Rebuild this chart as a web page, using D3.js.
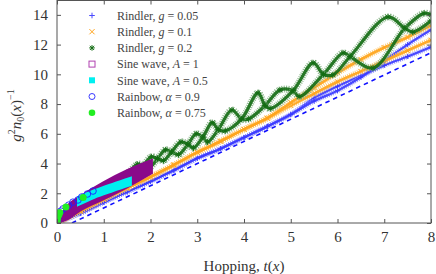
<!DOCTYPE html>
<html>
<head>
<meta charset="utf-8">
<title>Hopping vs density</title>
<script src="https://d3js.org/d3.v7.min.js"></script>
<style>
    body { margin: 0; background: #fff; }
</style>
</head>
<body>
<div id="cont"></div>
<script>
// ---- data: [t(x), g^2 n0(x)^-1] ----
var xTicks = [0, 1, 2, 3, 4, 5, 6, 7, 8];
var yTicks = [0, 2, 4, 6, 8, 10, 12, 14];

// Rindler g = 0.05 (two strands of the coil)
var blueA = [[0,0],[0.5,0.65],[1,1.4],[1.5,2.1],[2,2.8],[2.5,3.55],[3,4.35],[3.5,5.0],[4,5.75],[4.5,6.5],[5,7.3],[5.5,8.4],[6,9.2],[6.5,9.9],[7,10.6],[7.5,11.2],[8,11.84]];
var blueB = [[0,0],[0.5,0.65],[1,1.4],[1.5,2.1],[2,2.8],[2.5,3.55],[3,4.35],[3.5,5.0],[4,5.75],[4.5,6.5],[5,7.3],[5.5,8.2],[6,8.9],[6.5,9.8],[7,10.9],[7.5,12.0],[8,13.0]];

// Rindler g = 0.1
var orangeA = [[0,0],[0.5,0.8],[1,1.6],[1.5,2.35],[2,3.1],[2.5,3.9],[3,4.75],[3.5,5.5],[4,6.3],[4.5,7.05],[5,7.9],[5.5,8.7],[6,9.5],[6.5,10.2],[7,10.9],[7.5,11.6],[8,12.3]];
var orangeB = [[0,0],[0.5,0.8],[1,1.6],[1.5,2.35],[2,3.1],[2.5,3.9],[3,4.75],[3.5,5.5],[4,6.3],[4.5,7.05],[5,8.1],[5.5,9.1],[6,10.1],[6.5,11.0],[7,11.8],[7.5,12.5],[8,13.3]];

// Rindler g = 0.2
var greenA = [[1.55,3.43],[1.72,3.95],[1.85,3.88],[1.98,3.75],[2.15,4.33],[2.32,4.92],[2.45,4.78],[2.6,4.6],[2.8,5.3],[2.98,6.0],[3.12,5.78],[3.22,5.45],[3.45,6.28],[3.74,7.6],[3.95,7.0],[4.1,7.0],[4.45,7.9],[4.77,8.95],[5.05,8.9],[5.18,8.5],[5.7,10.0],[6.12,11.44],[6.27,11.2],[6.76,10.43],[7.44,13.1],[7.85,14.1],[8,14.0]];
var greenB = [[1.55,3.43],[1.68,3.3],[1.85,3.88],[2.02,4.45],[2.15,4.33],[2.28,4.2],[2.45,4.78],[2.65,5.45],[2.8,5.3],[2.92,5.05],[3.12,5.78],[3.32,6.75],[3.45,6.28],[3.6,6.2],[3.95,7.0],[4.3,8.75],[4.45,7.9],[4.56,7.7],[5.05,8.9],[5.48,10.77],[5.7,10.0],[5.9,9.96],[6.27,11.2],[7.08,13.86],[7.44,13.1],[7.61,12.85],[8,13.6]];

// Sine wave A = 1 (band) and A = 0.5 (band)
var sine1X = [0, 0.25, 0.5, 1.0, 1.5, 2.03];
var sine1Up = [0.2, 1.25, 1.8, 2.75, 3.55, 4.24];
var sine1Lo = [0, 0.3, 0.85, 1.6, 2.4, 3.35];
var sine05X = [0.45, 0.8, 1.2, 1.58];
var sine05Up = [1.75, 2.2, 2.65, 3.05];
var sine05Lo = [1.2, 1.7, 2.15, 2.55];

// Rainbow
var rain09T = [0.0, 0.01, 0.03, 0.08, 0.13, 0.25, 0.34, 0.45, 0.53, 0.65, 0.77];
var rain09N = [0.1, 0.3, 0.55, 0.8, 0.95, 1.2, 1.4, 1.55, 1.75, 1.95, 2.15];
var rain075T = [0, 0, 0, 0.01, 0.02, 0.04, 0.06, 0.19, 0.56];
var rain075N = [0.05, 0.15, 0.25, 0.35, 0.45, 0.55, 0.7, 1.08, 1.72];

// dashed reference line
var dashT = [0.32, 8];
var dashN = [0, 11.45];

(function() {
    var W = 436, H = 274,
        margin = { top: 0.5, left: 57 },
        width = 431 - 57,
        height = 222.5,
        serif = '"Liberation Serif", "DejaVu Serif", serif';

    var svg = d3.select('#cont').append('svg')
        .attr('width', W).attr('height', H)
        .append('g')
        .attr('transform', 'translate(' + margin.left + ',' + margin.top + ')');

    var x = d3.scaleLinear().domain([0, 8]).range([0, width]);
    var y = d3.scaleLinear().domain([0, 15]).range([height, -0.5]);

    var line = d3.line()
        .x(function(d) { return x(d[0]); })
        .y(function(d) { return y(d[1]); })
        .curve(d3.curveCatmullRom.alpha(0.5));

    //marker shapes
    function plus(s) { return 'M' + (-s) + ',0H' + s + 'M0,' + (-s) + 'V' + s; }
    function cross(s) { return 'M' + (-s) + ',' + (-s) + 'L' + s + ',' + s + 'M' + (-s) + ',' + s + 'L' + s + ',' + (-s); }
    function star(s) { return plus(s) + cross(s * 0.75); }

    svg.append('clipPath').attr('id', 'clip')
        .append('rect').attr('width', width).attr('height', height);
    var plot = svg.append('g').attr('clip-path', 'url(#clip)');

    function strand(pts, core, light, w, shape, ms) {
        var g = plot.append('g');
        g.append('path').attr('d', line(pts))
            .attr('fill', 'none').attr('stroke', light)
            .attr('stroke-width', w).attr('stroke-dasharray', '1 1.1')
            .attr('opacity', 0.85);
        g.append('path').attr('d', line(pts))
            .attr('fill', 'none').attr('stroke', core)
            .attr('stroke-width', w * 0.45).attr('opacity', 0.9);
        g.selectAll('path.m').data(pts).enter().append('path')
            .attr('class', 'm')
            .attr('transform', function(d) { return 'translate(' + x(d[0]) + ',' + y(d[1]) + ')'; })
            .attr('d', shape(ms))
            .attr('stroke', core).attr('stroke-width', 0.9).attr('fill', 'none');
    }

    //dashed line
    plot.append('path')
        .attr('d', d3.line()(dashT.map(function(t, i) { return [x(t), y(dashN[i])]; })))
        .attr('stroke', '#1010ff').attr('stroke-width', 1.6)
        .attr('stroke-dasharray', '4.5 4').attr('fill', 'none');

    strand(blueA, '#3a3aff', '#8c8cff', 5, plus, 2.5);
    strand(blueB, '#3a3aff', '#8c8cff', 5, plus, 2.5);
    strand(orangeA, '#ffa31a', '#ffc766', 6, cross, 2.5);
    strand(orangeB, '#ffa31a', '#ffc766', 6, cross, 2.5);
    strand(greenA, '#136c13', '#7fb07f', 7, star, 3);
    strand(greenB, '#136c13', '#7fb07f', 7, star, 3);

    //sine wave bands
    function band(xs, up, lo, fill) {
        var pts = xs.map(function(t, i) { return [t, up[i], lo[i]]; });
        plot.append('path')
            .attr('d', d3.area()
                .x(function(d) { return x(d[0]); })
                .y0(function(d) { return y(d[2]); })
                .y1(function(d) { return y(d[1]); })
                .curve(d3.curveMonotoneX)(pts))
            .attr('fill', fill).attr('stroke', fill).attr('stroke-width', 2);
    }
    band(sine1X, sine1Up, sine1Lo, '#8a0a8a');
    band(sine05X, sine05Up, sine05Lo, '#00f0f0');

    //rainbow points
    plot.selectAll('circle.r09').data(rain09T).enter().append('circle')
        .attr('cx', function(d) { return x(d); })
        .attr('cy', function(d, i) { return y(rain09N[i]); })
        .attr('r', 3.3).attr('fill', 'none').attr('stroke', '#2020ff').attr('stroke-width', 0.9);
    plot.selectAll('circle.r075').data(rain075T).enter().append('circle')
        .attr('cx', function(d) { return x(d); })
        .attr('cy', function(d, i) { return y(rain075N[i]); })
        .attr('r', 3.5).attr('fill', '#22ee22');

    //axes, ticks inward on all four sides
    var xAxis = d3.axisBottom(x).tickValues(xTicks).tickSizeInner(-4).tickSizeOuter(0).tickPadding(8);
    var yAxis = d3.axisLeft(y).tickValues(yTicks).tickSizeInner(-4).tickSizeOuter(0).tickPadding(9);

    svg.append('g').attr('transform', 'translate(0,' + height + ')').call(xAxis);
    svg.append('g').call(yAxis);
    svg.append('g').call(d3.axisTop(x).tickValues(xTicks).tickSizeInner(-4).tickSizeOuter(0).tickFormat(''));
    svg.append('g').attr('transform', 'translate(' + width + ',0)')
        .call(d3.axisRight(y).tickValues(yTicks).tickSizeInner(-4).tickSizeOuter(0).tickFormat(''));

    svg.selectAll('.domain').remove();
    svg.selectAll('.tick line').attr('stroke', '#555');
    svg.selectAll('.tick text').style('font-size', '15px').style('font-family', serif).attr('fill', '#333');

    svg.append('rect').attr('x', 0).attr('y', 0).attr('width', width).attr('height', height)
        .attr('fill', 'none').attr('stroke', '#555').attr('stroke-width', 1);

    //axis labels
    var xl = svg.append('text').attr('x', 187).attr('y', 270)
        .attr('text-anchor', 'middle').style('font-size', '15px').style('font-family', serif).attr('fill', '#333');
    xl.append('tspan').text('Hopping, ');
    xl.append('tspan').style('font-style', 'italic').text('t');
    xl.append('tspan').text('(');
    xl.append('tspan').style('font-style', 'italic').text('x');
    xl.append('tspan').text(')');

    var yl = svg.append('text').attr('transform', 'translate(-36,115) rotate(-90)')
        .attr('text-anchor', 'middle').style('font-size', '15px').style('font-family', serif).attr('fill', '#333');
    yl.append('tspan').style('font-style', 'italic').text('g');
    yl.append('tspan').attr('dy', -6).style('font-size', '10px').text('2');
    yl.append('tspan').attr('dy', 6).style('font-style', 'italic').text('n');
    yl.append('tspan').attr('dy', 3).style('font-size', '10px').text('0');
    yl.append('tspan').attr('dy', -3).text('(');
    yl.append('tspan').style('font-style', 'italic').text('x');
    yl.append('tspan').text(')');
    yl.append('tspan').attr('dy', -7).style('font-size', '10px').text('\u22121');

    //legend
    var legendNames = ['Rindler, ', 'Rindler, ', 'Rindler, ', 'Sine wave, ', 'Sine wave, ', 'Rainbow, ', 'Rainbow, '];
    var legendVars = ['g', 'g', 'g', 'A', 'A', '\u03b1', '\u03b1'];
    var legendVals = ['0.05', '0.1', '0.2', '1', '0.5', '0.9', '0.75'];
    var lg = svg.append('g').attr('transform', 'translate(35,15)');
    legendNames.forEach(function(nm, i) {
        var row = lg.append('g').attr('transform', 'translate(0,' + (i * 16.2) + ')');
        if (i === 0) row.append('path').attr('d', plus(2.8)).attr('stroke', '#4a4aff').attr('stroke-width', 1);
        if (i === 1) row.append('path').attr('d', cross(2.6)).attr('stroke', '#ffa31a').attr('stroke-width', 1);
        if (i === 2) row.append('path').attr('d', star(2.8)).attr('stroke', '#136c13').attr('stroke-width', 1);
        if (i === 3) row.append('rect').attr('x', -3).attr('y', -3).attr('width', 6).attr('height', 6)
            .attr('fill', 'none').attr('stroke', '#b040b0').attr('stroke-width', 1);
        if (i === 4) row.append('rect').attr('x', -3).attr('y', -3).attr('width', 6).attr('height', 6).attr('fill', '#00f0f0');
        if (i === 5) row.append('circle').attr('r', 3).attr('fill', 'none').attr('stroke', '#3a3aff').attr('stroke-width', 1);
        if (i === 6) row.append('circle').attr('r', 3.3).attr('fill', '#22ee22');
        var t = row.append('text').attr('x', 25).attr('dy', '0.35em')
            .style('font-size', '12px').style('font-family', serif).attr('fill', '#444');
        t.append('tspan').text(nm);
        t.append('tspan').style('font-style', 'italic').text(legendVars[i]);
        t.append('tspan').text(' = ' + legendVals[i]);
    });
})();
</script>
</body>
</html>
